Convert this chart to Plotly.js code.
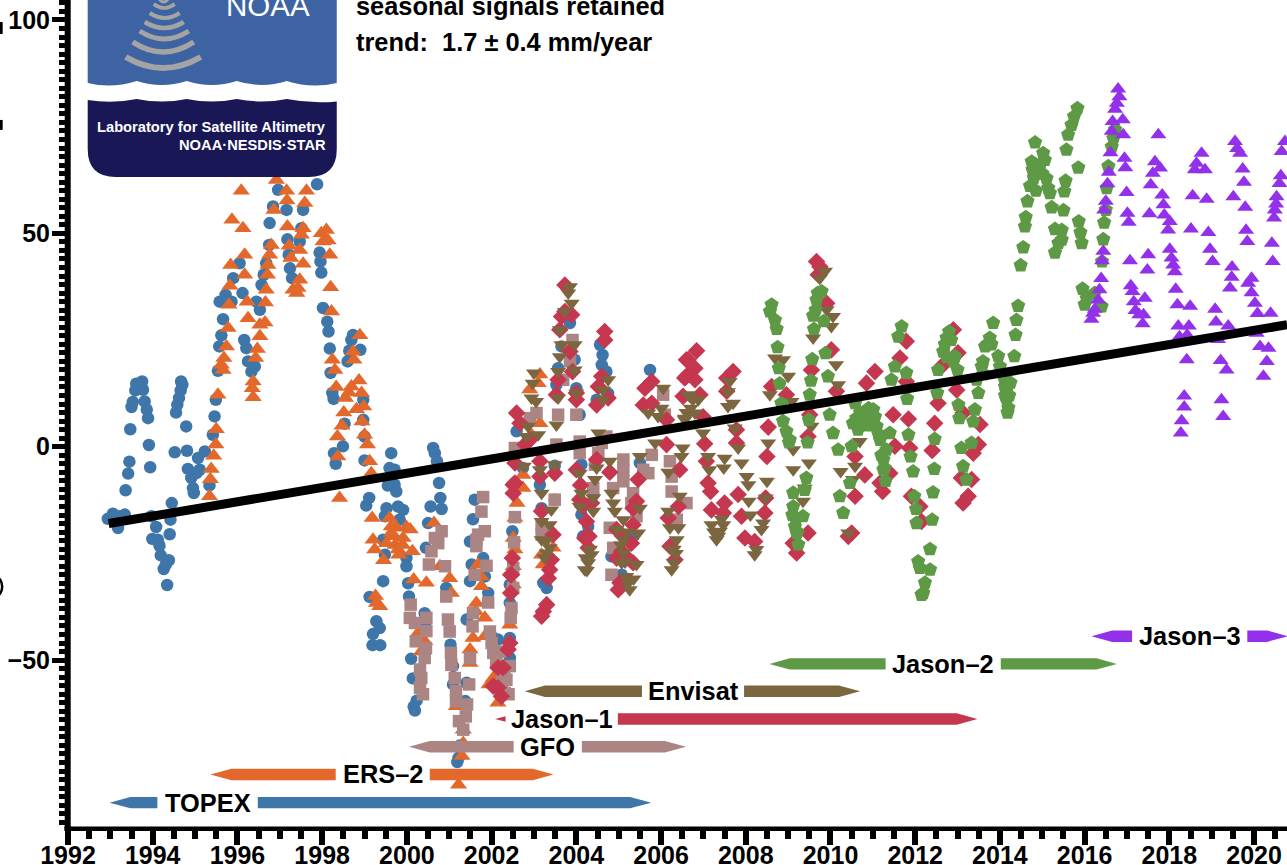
<!DOCTYPE html>
<html>
<head>
<meta charset="utf-8">
<script src="https://cdn.plot.ly/plotly-3.0.1.min.js"></script>
<style>html,body{margin:0;padding:0;background:#fff;overflow:hidden}#chart{width:1287px;height:865px}</style>
</head>
<body>
<div id="chart"></div>
<script>
// [year, sea level in mm]
const topexPoints = [[1992.94,-16.9],[1993.06,-15.7],[1993.18,-19.05],[1993.22,-16.3],[1993.34,-15.9],[1993.36,-10.2],[1993.42,-6.3],[1993.45,-3.5],[1993.47,4.1],[1993.5,9.3],[1993.53,10.5],[1993.59,13.2],[1993.61,14.75],[1993.75,15.3],[1993.77,13.35],[1993.81,10.6],[1993.86,8.7],[1993.89,6.7],[1993.91,0.4],[1993.94,-4.8],[1993.97,-16.3],[1993.99,-21.6],[1994.08,-18.8],[1994.12,-21.8],[1994.16,-23.2],[1994.19,-25.45],[1994.26,-28.65],[1994.31,-27.6],[1994.34,-32.4],[1994.38,-26.6],[1994.4,-20.5],[1994.42,-17.1],[1994.45,-13.2],[1994.52,-1.3],[1994.55,8],[1994.58,9.8],[1994.62,11.4],[1994.66,13.2],[1994.67,15.3],[1994.7,14.5],[1994.79,4.76],[1994.81,-0.94],[1994.83,-5.2],[1994.91,-7.3],[1994.95,-9.7],[1994.97,-10.85],[1995.03,-6.2],[1995.07,-2.65],[1995.11,-5.4],[1995.23,-1.1],[1995.34,-9.06],[1995.42,2.8],[1995.46,7.1],[1995.49,11],[1995.54,17.8],[1995.57,23.5],[1995.58,34],[1995.62,26.1],[1995.66,29.9],[1995.72,35.6],[1995.86,34],[1995.9,39.5],[1996.05,43],[1996.12,36],[1996.16,25],[1996.21,23.1],[1996.25,20],[1996.33,17.6],[1996.41,18.8],[1996.45,34],[1996.53,32.1],[1996.57,37.9],[1996.62,40.3],[1996.68,43],[1996.75,47.3],[1996.76,52.4],[1996.84,56.3],[1996.96,60.2],[1997.16,55.5],[1997.18,48.6],[1997.21,45],[1997.24,41.8],[1997.29,39.5],[1997.47,48.1],[1997.51,51.2],[1997.55,55.5],[1997.88,61.5],[1997.94,45.5],[1997.96,43.4],[1997.98,40.8],[1998.02,32.5],[1998.12,29.3],[1998.15,27],[1998.18,23],[1998.2,17.3],[1998.24,12.6],[1998.27,11.2],[1998.28,-1.5],[1998.32,-4],[1998.49,0.1],[1998.53,5.4],[1998.6,20],[1998.64,22.5],[1998.69,25],[1998.73,26.2],[1998.9,22.7],[1998.97,11],[1998.97,6.3],[1999,2.4],[1999,-3.2],[1999.04,-13.8],[1999.11,-12],[1999.12,-35.2],[1999.19,-46.5],[1999.2,-43.9],[1999.28,-40.9],[1999.36,-42.5],[1999.37,-46.5],[1999.44,-21.8],[1999.44,-31.5],[1999.48,-16.3],[1999.48,-25.3],[1999.52,-14.4],[1999.55,-9.1],[1999.59,-5],[1999.63,-1.5],[1999.71,-5.4],[1999.71,-8.9],[1999.75,-10.5],[1999.79,-14],[1999.83,-17.1],[1999.91,-14.8],[1999.99,-26.1],[1999.99,-28],[2000.03,-32],[2000.05,-35.1],[2000.1,-49.7],[2000.14,-54.3],[2000.16,-60.9],[2000.19,-61.8],[2000.23,-59.5],[2000.42,-39],[2000.45,-23.7],[2000.45,-41],[2000.5,-17.9],[2000.56,-14],[2000.62,-0.3],[2000.66,-1.5],[2000.71,-3.4],[2000.76,-8.5],[2000.79,-12],[2000.82,-14.6],[2000.93,-33.1],[2001.03,-46.4],[2001.09,-51.4],[2001.09,-55.7],[2001.19,-73.9],[2001.22,-72.9],[2001.25,-70],[2001.38,-59.6],[2001.41,-55.3],[2001.41,-40.5],[2001.49,-22.2],[2001.49,-31.5],[2001.53,-27.6],[2001.56,-17],[2001.6,-12.4],[2001.8,-26.1],[2001.84,-30.4],[2001.92,-34.3],[2002,-44.4],[2002.15,-45.2],[2002.43,-44.8],[2002.43,-49.5],[2002.43,-32.3],[2002.43,-36.6],[2002.49,-19.8],[2002.59,3.6],[2002.74,-5],[2003.14,-8.9],[2003.18,-14.4],[2003.22,-31.9],[2003.3,-33.1],[2003.49,-12.4],[2003.49,-4.45],[2003.53,14.5],[2003.57,18.4],[2003.65,23.5],[2003.85,29],[2003.96,20.4],[2004,13.7],[2004.08,7.5],[2004.12,-4.2],[2004.12,-15.9],[2004.16,-21],[2004.28,-18.7],[2004.4,-11.2],[2004.48,11],[2004.56,23.9],[2004.6,19.2],[2004.62,21.5],[2004.71,17.6],[2004.75,12.5],[2004.83,-25.7],[2005.07,-30],[2005.34,-21],[2005.5,-3.8],[2005.74,18]];

const ers2Points = [[1995.34,-11.6],[1995.36,-7.6],[1995.38,-5.2],[1995.44,-2.1],[1995.49,0.5],[1995.5,4.1],[1995.54,12.2],[1995.62,19.2],[1995.66,18],[1995.68,20.8],[1995.74,23.5],[1995.78,27.8],[1995.8,33.3],[1995.82,37.7],[1995.84,42.6],[1995.87,53.2],[1996.09,60],[1996.13,51.2],[1996.17,40.3],[1996.17,45],[1996.23,34],[1996.25,30.1],[1996.35,13.7],[1996.37,11.6],[1996.37,15.3],[1996.43,20.8],[1996.47,22.9],[1996.53,25.9],[1996.53,28.6],[1996.65,29.1],[1996.66,33.8],[1996.68,36.8],[1996.71,40.3],[1996.72,42.6],[1996.76,45],[1996.8,47.3],[1996.86,55.5],[1996.92,62.5],[1997.16,60],[1997.17,57.7],[1997.18,51.6],[1997.22,47.1],[1997.26,44.2],[1997.31,36.8],[1997.4,36],[1997.43,37.2],[1997.47,39.1],[1997.47,46.1],[1997.51,49.7],[1997.55,42.9],[1997.55,51.2],[1997.59,57.1],[1997.63,60],[1997.98,50],[1998.02,48.1],[1998.1,50.8],[1998.14,48.3],[1998.18,45],[1998.2,37.4],[1998.22,31.7],[1998.24,20.4],[1998.3,18],[1998.33,14],[1998.36,2.4],[1998.37,-2.3],[1998.41,-12],[1998.47,4.9],[1998.51,8],[1998.55,11.4],[1998.63,12.7],[1998.69,14.1],[1998.73,22.3],[1998.75,20.4],[1998.81,8.8],[1998.87,15.5],[1998.89,26.1],[1998.93,12.6],[1998.94,5.9],[1998.98,9.4],[1999,2.8],[1999.07,0.5],[1999.12,-3.4],[1999.16,-6.2],[1999.18,-16.7],[1999.2,-21.8],[1999.24,-24.1],[1999.26,-35],[1999.28,-36.6],[1999.36,-37.4],[1999.45,-26.6],[1999.52,-22.6],[1999.59,-16.7],[1999.63,-18.7],[1999.63,-20.2],[1999.7,-21],[1999.72,-23],[1999.75,-19],[1999.79,-24.1],[1999.81,-25.3],[1999.9,-23],[1999.91,-21.4],[1999.99,-18.8],[2000.08,-19.4],[2000.13,-24.5],[2000.16,-31.1],[2000.27,-43.6],[2000.34,-48],[2000.42,-45.6],[2000.46,-31.9],[2000.64,-17.9],[2000.78,-28],[2001.01,-30.8],[2001.05,-34.3],[2001.17,-60.8],[2001.22,-79.2],[2001.3,-72.5],[2001.33,-69.4],[2001.33,-66.3],[2001.49,-47.5],[2001.49,-50.7],[2001.56,-44.8],[2001.63,-38.6],[2001.64,-36.6],[2001.68,-27.6],[2001.75,-30.4],[2001.76,-32.7],[2001.84,-40.1],[2001.84,-44.4],[2001.94,-55.7],[2002.04,-54.2],[2002.15,-60],[2002.43,-41.7],[2002.51,-32.3],[2002.51,-28],[2002.51,-21.4],[2002.55,-24.1],[2002.55,-16.7],[2002.6,-13.2],[2002.74,-6.6],[2002.74,-9.7],[2002.9,13.4],[2002.94,2.8],[2003.1,14.9],[2003.14,16.9],[2003.14,5.5],[2003.18,-25.3],[2003.22,-27.6],[2003.45,-23.7]];

const gfoPoints = [[2000.07,-40.1],[2000.09,-37],[2000.19,-41.3],[2000.21,-45.6],[2000.31,-52.2],[2000.31,-56.5],[2000.34,-54.2],[2000.38,-58],[2000.42,-49.5],[2000.45,-47.2],[2000.46,-40.1],[2000.46,-43.2],[2000.52,-27.6],[2000.58,-24.5],[2000.66,-21.4],[2000.74,-22.6],[2000.82,-19.8],[2000.9,-28],[2000.93,-35.1],[2000.97,-40.5],[2001.01,-43.3],[2001.04,-48.3],[2001.05,-51.1],[2001.13,-54.2],[2001.16,-57.3],[2001.16,-59.6],[2001.23,-64.3],[2001.33,-66.3],[2001.39,-63.2],[2001.42,-60.4],[2001.47,-55.7],[2001.49,-49.5],[2001.55,-42.1],[2001.56,-39],[2001.6,-30],[2001.64,-21.8],[2001.64,-23.3],[2001.68,-20.6],[2001.76,-15.2],[2001.8,-11.8],[2001.84,-19.8],[2001.88,-27.9],[2001.92,-36.5],[2001.96,-43.3],[2002,-46],[2002.04,-48.3],[2002.11,-50.3],[2002.2,-48],[2002.25,-55],[2002.3,-52],[2002.31,-57.7],[2002.35,-54.6],[2002.4,-58],[2002.43,-51.4],[2002.45,-40.1],[2002.47,-37.8],[2002.51,-33.1],[2002.51,-28.4],[2002.53,-22.4],[2002.55,-16.5],[2002.55,-0.3],[2002.9,6.7],[2003.06,7.9],[2003.18,-18.3],[2003.18,-20.6],[2003.49,-12.4],[2003.53,0.5],[2003.57,7.5],[2003.69,15.7],[2003.85,22.3],[2003.85,20],[2003.91,25],[2004,7.5],[2004.08,1.2],[2004.08,-1.5],[2004.4,-9.7],[2004.44,-4.2],[2004.52,-1.5],[2004.6,0.9],[2004.71,2.4],[2004.79,-19],[2004.83,-30],[2004.87,-9.7],[2004.87,-23.7],[2005.11,-3],[2005.11,-5.4],[2005.11,-8.1],[2005.3,-13.2],[2005.34,-10.9],[2005.42,-16.3],[2005.58,-5.4],[2005.7,-6.2],[2005.78,-1.9],[2006.05,12.2],[2006.09,7.5],[2006.21,-3.4],[2006.25,-7],[2006.25,-10.5],[2006.37,-17.1],[2006.6,-13.2]];

const jason1Points = [[2002.04,-56.1],[2002.15,-51.8],[2002.15,-56.5],[2002.23,-58.5],[2002.27,-51.8],[2002.39,-47.5],[2002.43,-46],[2002.45,-34.3],[2002.45,-30],[2002.47,-30],[2002.49,-26.1],[2002.51,-8.9],[2002.51,-10.9],[2002.55,-3.8],[2002.55,-8.5],[2002.59,7.9],[2002.67,5.5],[2002.79,0.5],[2002.9,1.6],[2003.14,-3.4],[2003.14,-7],[2003.18,-15.1],[2003.18,-39.7],[2003.22,-38.6],[2003.3,-37],[2003.34,-30.8],[2003.37,-28.8],[2003.41,-26.5],[2003.45,-20.6],[2003.49,-6.2],[2003.53,12.2],[2003.57,15.7],[2003.61,27.4],[2003.65,30.5],[2003.73,37.9],[2003.73,31.7],[2003.85,22.3],[2003.89,30.9],[2003.91,17.6],[2004,12.6],[2004,11],[2004,-5.4],[2004.08,-12.4],[2004.1,-9],[2004.15,-14],[2004.2,-21.4],[2004.24,-17.5],[2004.28,-23.7],[2004.3,-21],[2004.36,-13.2],[2004.48,9.8],[2004.48,-3],[2004.52,14.1],[2004.6,16.5],[2004.67,27],[2004.67,25],[2004.75,11.4],[2004.79,-6],[2004.95,-19.4],[2004.95,-26.1],[2004.99,-33.5],[2005.03,-31.9],[2005.07,-24.5],[2005.1,-21],[2005.2,-26],[2005.3,-22.6],[2005.34,-14.4],[2005.34,-18.3],[2005.34,-27.2],[2005.42,-12.8],[2005.46,-7.7],[2005.58,9.8],[2005.62,13.7],[2005.78,15.3],[2005.78,10.2],[2006.13,6.3],[2006.13,0.5],[2006.17,-16.7],[2006.21,-23.3],[2006.33,-26.5],[2006.41,-14],[2006.44,-5.4],[2006.52,11.8],[2006.56,16.1],[2006.6,20.4],[2006.6,16.5],[2006.64,20.4],[2006.8,18.4],[2006.8,15.7],[2006.84,22.5],[2006.92,12.2],[2006.99,7],[2007.03,0.7],[2007.07,-3.4],[2007.11,-8.5],[2007.17,-10.5],[2007.19,-14.8],[2007.47,-15.5],[2007.5,-13.2],[2007.55,16.1],[2007.55,13],[2007.7,17.6],[2007.78,4],[2007.78,0.9],[2007.82,-11.2],[2007.9,-16.3],[2007.98,-21.4],[2008.21,-22.2],[2008.45,-15.5],[2008.47,-12],[2008.5,-2.3],[2008.53,4.6],[2008.61,14.1],[2008.96,12.2],[2009.12,-22.6],[2009.2,-24.9],[2009.47,2.4],[2009.47,-20.2],[2009.51,7.5],[2009.55,18],[2009.67,43.4],[2009.71,40.3],[2009.75,42.2],[2009.91,33.6],[2010.02,22.7],[2010.14,13],[2010.42,-21],[2010.5,-20.2],[2010.58,-2.3],[2010.58,-11.6],[2010.81,-6.6],[2010.85,14.9],[2011.05,17.6],[2011.17,-8.5],[2011.23,-10.5],[2011.4,-6.2],[2011.48,7.5],[2011.52,0.1],[2011.64,20.8],[2011.79,24.7],[2011.79,15.3],[2011.84,6.5],[2011.87,-0.3],[2011.91,-11.6],[2012.11,-14],[2012.15,-17.5],[2012.4,-0.9],[2012.46,5.5],[2012.54,10.2],[2012.66,19.2],[2012.9,27.4],[2012.98,13.3],[2013.01,22],[2013.09,-7.3],[2013.13,7.9],[2013.13,-13.2],[2013.25,-11.6],[2013.33,-7.7],[2013.37,-1.5],[2013.49,0.5],[2013.53,5.2]];

const envisatPoints = [[2002.76,-4.6],[2002.82,2.4],[2002.86,4.8],[2002.94,11.4],[2002.97,14.9],[2003,17.3],[2003.05,10.6],[2003.1,2.8],[2003.14,-5.4],[2003.18,-10.9],[2003.18,-17.5],[2003.18,-21.8],[2003.25,-26],[2003.3,-24.9],[2003.3,-22],[2003.37,-18.3],[2003.37,-23.7],[2003.41,-14.8],[2003.49,-4.2],[2003.53,5.1],[2003.57,17.6],[2003.57,11.4],[2003.61,27.4],[2003.61,21.1],[2003.65,23.9],[2003.73,31.7],[2003.81,36],[2003.85,37.5],[2003.89,33.6],[2003.96,23.9],[2003.96,18],[2004,12.6],[2004.08,-6.2],[2004.08,-14],[2004.12,-10.9],[2004.2,-28.8],[2004.22,-26],[2004.25,-29],[2004.28,-27.2],[2004.32,-24],[2004.36,-25.3],[2004.4,-12],[2004.4,-15.1],[2004.44,-7.7],[2004.48,-5],[2004.52,3.2],[2004.62,11],[2004.63,13.3],[2004.75,15.7],[2004.79,-3.4],[2004.83,-10.9],[2004.87,-13.2],[2004.91,-15.1],[2004.95,-19.4],[2005.05,-23],[2005.07,-27.2],[2005.11,-17.1],[2005.11,-21.8],[2005.11,-24.9],[2005.15,-27],[2005.18,-30.4],[2005.2,-20],[2005.22,-32],[2005.26,-33.5],[2005.35,-31],[2005.42,-27.6],[2005.46,-20.2],[2005.5,-14.4],[2005.5,-2.3],[2005.7,7.9],[2005.86,0.9],[2005.93,7.1],[2006.01,9],[2006.05,13.7],[2006.17,-6],[2006.17,-15.1],[2006.21,-19],[2006.25,-28.8],[2006.25,-24],[2006.3,-27.2],[2006.3,-24],[2006.35,-25],[2006.37,-21.8],[2006.41,-19],[2006.44,-11.6],[2006.48,-2.3],[2006.51,-0.3],[2006.56,6.3],[2006.56,6.7],[2006.6,8],[2006.64,12.2],[2006.68,11.8],[2006.7,9],[2006.75,11],[2006.8,7.9],[2006.88,11],[2006.99,3.2],[2007.11,-2.3],[2007.14,-5.4],[2007.19,-18.3],[2007.25,-20],[2007.31,-21.8],[2007.35,-21],[2007.39,-19.8],[2007.43,-17],[2007.47,-18.3],[2007.48,-5],[2007.5,-2.7],[2007.58,9.4],[2007.58,12.9],[2007.62,15.3],[2007.7,10.2],[2007.74,4.4],[2007.82,-0.3],[2007.9,-3.8],[2008.02,-7],[2008.06,-8.9],[2008.07,-12.8],[2008.11,-16],[2008.21,-25.3],[2008.25,-24.1],[2008.37,-19.4],[2008.41,-17.9],[2008.47,-12],[2008.5,-8.1],[2008.53,0.9],[2008.57,12.2],[2008.69,20.8],[2008.88,20.4],[2009,16.5],[2009.08,10.6],[2009.12,-0.7],[2009.12,-5.4],[2009.16,-17.1],[2009.35,-12.8],[2009.39,-9.7],[2009.49,-3.8],[2009.55,4.8],[2009.59,25.5],[2009.75,39.5],[2009.87,41.1],[2009.91,32.1],[2010.02,28.2],[2010.06,30.5],[2010.13,19.2],[2010.18,14.5],[2010.24,-5.8],[2010.42,-20.2],[2010.53,-7.7],[2010.58,-4.6],[2010.69,1.2]];

const jason2Points = [[2008.57,31.7],[2008.61,33.3],[2008.69,29.7],[2008.73,27.6],[2008.75,23.3],[2008.78,18.4],[2008.8,14.8],[2008.84,10.2],[2008.88,6],[2008.96,3.6],[2009.02,1],[2009.04,1.6],[2009.1,-16],[2009.12,-10.8],[2009.12,-14],[2009.16,-18.7],[2009.18,-17],[2009.2,-20.2],[2009.22,-20],[2009.24,-22.9],[2009.35,-16.3],[2009.39,-10.1],[2009.43,-7.3],[2009.46,1],[2009.49,6.3],[2009.51,12.2],[2009.54,15.5],[2009.57,20.5],[2009.59,30.7],[2009.61,27.6],[2009.65,32],[2009.67,34.4],[2009.7,36],[2009.79,36.4],[2009.84,29.4],[2009.88,21.9],[2009.94,16.5],[2009.98,7.5],[2010.06,3.2],[2010.18,-0.7],[2010.22,-11.6],[2010.3,-15.5],[2010.46,-8.5],[2010.5,0.1],[2010.53,5.5],[2010.58,10.2],[2010.61,6.7],[2010.65,4],[2010.7,8],[2010.75,6.5],[2010.8,5],[2010.85,7.5],[2010.9,9],[2010.95,6],[2011,5],[2011.01,8.7],[2011.05,7],[2011.09,4.8],[2011.13,3],[2011.17,1.6],[2011.2,-2],[2011.25,-3],[2011.25,-5.4],[2011.28,-5],[2011.3,-8],[2011.32,-0.7],[2011.4,3.2],[2011.44,15.7],[2011.52,18.8],[2011.6,25.8],[2011.68,28.2],[2011.79,17.3],[2011.81,11.2],[2011.84,2.8],[2011.89,-2.3],[2011.95,-5.8],[2011.98,-11.6],[2012.02,-14.6],[2012.03,-17.9],[2012.07,-26.9],[2012.11,-28.4],[2012.15,-34.7],[2012.19,-34.3],[2012.23,-31.9],[2012.35,-24],[2012.35,-28.8],[2012.4,-17.1],[2012.42,-10.7],[2012.45,-5.2],[2012.46,1.8],[2012.52,12.6],[2012.54,18],[2012.66,22.3],[2012.7,24],[2012.74,25.5],[2012.75,21],[2012.8,27],[2012.85,25],[2012.9,20],[2012.94,21.2],[2013,18],[2013.02,9.8],[2013.04,6.7],[2013.09,-0.3],[2013.13,-4.6],[2013.21,-7.7],[2013.33,0.9],[2013.37,5.9],[2013.41,8.7],[2013.45,15.7],[2013.49,12.6],[2013.57,18.8],[2013.6,20],[2013.62,17],[2013.65,23.5],[2013.7,24],[2013.76,25.5],[2013.8,24],[2013.84,29],[2013.96,21.2],[2014,18.8],[2014.1,16],[2014.12,14.1],[2014.12,12],[2014.15,13],[2014.16,11],[2014.17,11.8],[2014.18,8],[2014.2,9.1],[2014.2,14.9],[2014.22,12],[2014.25,15],[2014.34,21.2],[2014.37,26.2],[2014.39,29.7],[2014.43,33],[2014.49,42.5],[2014.55,46.7],[2014.59,51.6],[2014.61,53.8],[2014.65,57.5],[2014.71,61.1],[2014.75,66.8],[2014.77,64.9],[2014.8,63],[2014.83,71.3],[2014.85,60],[2014.91,64.1],[2014.95,66],[2015,64],[2015.02,68.8],[2015.06,67.2],[2015.1,62.9],[2015.14,60.6],[2015.18,59.4],[2015.22,56.1],[2015.3,45.5],[2015.3,51],[2015.38,47.7],[2015.46,48.5],[2015.46,50.8],[2015.5,55.4],[2015.52,59.8],[2015.55,62.3],[2015.57,69.6],[2015.61,73.1],[2015.69,75.4],[2015.75,77.4],[2015.83,79.3],[2015.85,65.4],[2015.86,52.8],[2015.9,50.2],[2015.93,47.7],[2015.95,37],[2016,33.3],[2016.05,34.8],[2016.24,36],[2016.4,32.9],[2016.41,43.4],[2016.44,48.6],[2016.46,52.5],[2016.5,55.5],[2016.52,60.6],[2016.56,65.7],[2016.64,70.3],[2016.68,72.3],[2016.72,74.3]];

const jason3Points = [[2016.16,29.9],[2016.2,31.3],[2016.24,32.2],[2016.32,34.4],[2016.35,36.8],[2016.39,39.4],[2016.41,43.6],[2016.44,45.8],[2016.46,55.5],[2016.5,57.5],[2016.54,61.6],[2016.57,64.3],[2016.61,68.9],[2016.64,73.9],[2016.66,76.2],[2016.72,79.1],[2016.76,80.5],[2016.79,83.8],[2016.82,82],[2016.9,76.6],[2016.91,73.1],[2016.94,67.6],[2016.96,65.4],[2016.99,59.6],[2017.01,54.7],[2017.04,52.6],[2017.07,43.6],[2017.09,37.7],[2017.13,36.4],[2017.16,34],[2017.2,31.9],[2017.29,30.9],[2017.37,28.8],[2017.39,30.9],[2017.42,34.8],[2017.48,41.4],[2017.5,45],[2017.53,54.6],[2017.56,61.4],[2017.61,64.1],[2017.66,66.8],[2017.74,73.1],[2017.78,65.3],[2017.83,59],[2017.86,56.7],[2017.88,54.3],[2017.97,50.8],[2018.01,52.8],[2018.01,46.3],[2018.05,44.2],[2018.09,42.6],[2018.13,41],[2018.15,36.9],[2018.19,33.3],[2018.21,28.3],[2018.24,25.8],[2018.27,3.2],[2018.29,6.1],[2018.35,11.9],[2018.35,9.3],[2018.41,20.4],[2018.42,26.2],[2018.46,28.3],[2018.49,32.9],[2018.51,51],[2018.55,58.8],[2018.6,64.9],[2018.64,66.4],[2018.76,68.8],[2018.84,64.9],[2018.88,58],[2018.92,50.2],[2018.96,46.3],[2019.02,43.4],[2019.08,32.2],[2019.1,29.2],[2019.15,25.1],[2019.21,20.2],[2019.23,11],[2019.27,7.1],[2019.35,18],[2019.39,28.3],[2019.43,37.2],[2019.47,39.7],[2019.48,42.1],[2019.51,58.6],[2019.55,71.5],[2019.6,69.9],[2019.67,68.8],[2019.73,65.1],[2019.76,62],[2019.79,56.1],[2019.81,50.7],[2019.84,48.1],[2019.86,38.3],[2019.94,39.5],[2019.94,36.1],[2020.02,33.6],[2020.06,26.6],[2020.08,31.2],[2020.14,23.5],[2020.22,16.5],[2020.3,20],[2020.34,23.1],[2020.39,31.3],[2020.42,47.7],[2020.44,43.4],[2020.47,53.6],[2020.49,55.5],[2020.52,56.9],[2020.53,58.6],[2020.6,61.7],[2020.63,63.5],[2020.65,69.2],[2020.73,71.5]];

const trendYears = [1992.96, 2020.78];
const trendLevels = [-18, 28.6];

// mission bars: level, then arrow tip, arrow base, label gap start, label gap end, arrow base, arrow tip (years)
const missionNames  = ['TOPEX','ERS–2','GFO','Jason–1','Envisat','Jason–2','Jason–3'];
const missionLevels = [-83.4,-76.8,-70.3,-63.8,-57.3,-50.9,-44.4];
const missionTipL   = [1992.98,1995.36,2000.05,2002.08,2002.78,2008.56,2016.16];
const missionBaseL  = [1993.47,1995.86,2000.54,2002.58,2003.26,2009.04,2016.65];
const missionGapL   = [1994.11,1998.32,2002.52,2002.33,2005.55,2011.30,2017.12];
const missionGapR   = [1996.48,2000.54,2004.13,2004.98,2007.96,2014.02,2019.84];
const missionBaseR  = [2005.27,2002.97,2006.09,2012.98,2010.20,2016.28,2020.31];
const missionTipR   = [2005.77,2003.46,2006.59,2013.47,2010.70,2016.76,2020.80];
const missionColors = ['#3F76A9','#E2682B','#AB8484','#C4374F','#7C6640','#5E9945','#9330EA'];

const xTickMajor = 2, xTickMinor = 0.5, yTickMajor = 50, yTickMinor = 2;

const W = 1287, H = 865, L = 68.3, B = 829.5;
const PW = W - L;
// decoration helpers (logo only): page pixels to paper fractions
const px = x => ((x - L) / PW).toFixed(5);
const py = y => (1 - y / B).toFixed(5);

const series = [
  {name:'TOPEX',  pts:topexPoints,  c:missionColors[0], sym:'circle',        size:12.5},
  {name:'ERS-2',  pts:ers2Points,   c:missionColors[1], sym:'triangle-up',   size:15},
  {name:'GFO',    pts:gfoPoints,    c:missionColors[2], sym:'square',        size:12.5},
  {name:'Jason-1',pts:jason1Points, c:missionColors[3], sym:'diamond',       size:13.5},
  {name:'Envisat',pts:envisatPoints,c:missionColors[4], sym:'triangle-down', size:14},
  {name:'Jason-2',pts:jason2Points, c:missionColors[5], sym:'pentagon',      size:15},
  {name:'Jason-3',pts:jason3Points, c:missionColors[6], sym:'triangle-up',   size:14}
];

const traces = series.map(s => ({
  type:'scatter', mode:'markers', name:s.name, showlegend:false, hoverinfo:'x+y',
  x:s.pts.map(p=>p[0]), y:s.pts.map(p=>p[1]),
  marker:{color:s.c, symbol:s.sym, size:s.size, line:{width:0}}
}));

traces.push({type:'scatter', mode:'lines', x:trendYears, y:trendLevels, showlegend:false,
  hoverinfo:'skip', line:{color:'#000', width:9}});

const HALF = 1.33;
missionNames.forEach((n,i)=>{
  const lv = missionLevels[i];
  let lx, ly;
  if (missionGapL[i] < missionBaseL[i]) {       // label cuts into the arrow head
    const f = (missionGapL[i]-missionTipL[i])/(missionBaseL[i]-missionTipL[i]);
    lx = [missionTipL[i], missionGapL[i], missionGapL[i], missionTipL[i]];
    ly = [lv, lv+HALF*f, lv-HALF*f, lv];
  } else {
    lx = [missionTipL[i], missionBaseL[i], missionGapL[i], missionGapL[i], missionBaseL[i], missionTipL[i]];
    ly = [lv, lv+HALF, lv+HALF, lv-HALF, lv-HALF, lv];
  }
  const rx = [missionGapR[i], missionBaseR[i], missionTipR[i], missionBaseR[i], missionGapR[i], missionGapR[i]];
  const ry = [lv+HALF, lv+HALF, lv, lv-HALF, lv-HALF, lv+HALF];
  traces.push({type:'scatter', mode:'lines', x:lx.concat([null],rx), y:ly.concat([null],ry),
    fill:'toself', fillcolor:missionColors[i], line:{width:0}, showlegend:false, hoverinfo:'skip'});
});

const bold = {family:'"Liberation Sans", Arial, sans-serif', size:25.4, color:'#000', weight:700};

const annotations = missionNames.map((n,i)=>({
  x:(missionGapL[i]+missionGapR[i])/2, y:missionLevels[i], xref:'x', yref:'y', text:n,
  showarrow:false, xanchor:'center', yanchor:'middle', font:bold
}));
// Jason-1's gap: centre the label in the actual space
annotations[3].x = 2003.65;

annotations.push(
  {x:px(354.5),y:py(6.5),xref:'paper',yref:'paper',text:'seasonal signals retained',showarrow:false,xanchor:'left',yanchor:'middle',font:bold},
  {x:px(354.5),y:py(42.5),xref:'paper',yref:'paper',text:'trend:  1.7 ± 0.4 mm/year',showarrow:false,xanchor:'left',yanchor:'middle',font:bold},
  {x:px(224),y:py(6),xref:'paper',yref:'paper',text:'NOAA',showarrow:false,xanchor:'left',yanchor:'middle',
    font:{family:'"Liberation Sans", Arial, sans-serif',size:29.5,color:'#fff'}},
  {x:px(328),y:py(127),xref:'paper',yref:'paper',text:'Laboratory for Satellite Altimetry',showarrow:false,xanchor:'right',yanchor:'middle',
    font:{family:'"Liberation Sans", Arial, sans-serif',size:14.7,color:'#fff',weight:700}},
  {x:px(328),y:py(145),xref:'paper',yref:'paper',text:'NOAA·NESDIS·STAR',showarrow:false,xanchor:'right',yanchor:'middle',
    font:{family:'"Liberation Sans", Arial, sans-serif',size:14.7,color:'#fff',weight:700}}
);

// logo shapes
function wave(yPeak, yTrough){
  const peaks=[137,187,237,287];
  let d='';
  let prev=88;
  peaks.forEach(p=>{
    const mid=(prev+p)/2;
    d+=` Q ${px(mid)} ${py(yTrough+1)} ${px(p)} ${py(yPeak)}`;
    prev=p;
  });
  d+=` Q ${px(312)} ${py(yTrough+1)} ${px(337)} ${py(yPeak+2.5)}`;
  return d;
}
const logoBlue = `M ${px(88)} ${py(-2)} L ${px(337)} ${py(-2)} L ${px(337)} ${py(83)}`
  + ` Q ${px(312)} ${py(89)} ${px(287)} ${py(81)} Q ${px(262)} ${py(89)} ${px(237)} ${py(81)} Q ${px(212)} ${py(89)} ${px(187)} ${py(81)} Q ${px(162)} ${py(89)} ${px(137)} ${py(81)} Q ${px(112)} ${py(89)} ${px(88)} ${py(83)} Z`;
const logoNavy = `M ${px(88)} ${py(100)}` + wave(99,103)
  + ` L ${px(337)} ${py(149)} Q ${px(337)} ${py(177)} ${px(309)} ${py(177)} L ${px(116)} ${py(177)} Q ${px(88)} ${py(177)} ${px(88)} ${py(149)} Z`;
const logoWhite = `M ${px(88)} ${py(83)} L ${px(337)} ${py(83)} L ${px(337)} ${py(100)} L ${px(88)} ${py(100)} Z`;

function arc(x0,x1,y0,yb,w){
  const cx=(x0+x1)/2, yc=2*yb-y0;
  return {type:'path', xref:'paper', yref:'paper', layer:'above',
    path:`M ${px(x0)} ${py(y0)} Q ${px(cx)} ${py(yc)} ${px(x1)} ${py(y0)}`,
    line:{color:'#A4A4A4', width:w}, fillcolor:'rgba(0,0,0,0)'};
}

const shapes = [
  {type:'path',xref:'paper',yref:'paper',layer:'above',path:logoWhite,fillcolor:'#fff',line:{width:0}},
  {type:'path',xref:'paper',yref:'paper',layer:'above',path:logoBlue,fillcolor:'#3D63A2',line:{width:0}},
  {type:'path',xref:'paper',yref:'paper',layer:'above',path:logoNavy,fillcolor:'#1A1757',line:{width:0}},
  arc(126,201,57,68,6), arc(133,194,42,52,5.5), arc(140,189,31,39,5), arc(145,184,22,28,4.5),
  arc(150,180,13,18,4), arc(154,175,4,8,3.5), arc(158,170,-3,2,3),
  // thick axis bands
  {type:'rect',xref:'paper',yref:'paper',xsizemode:'pixel',xanchor:0,x0:-3.3,x1:2.7,y0:0,y1:1.02,layer:'above',fillcolor:'#000',line:{width:0}},
  {type:'rect',xref:'paper',yref:'paper',ysizemode:'pixel',yanchor:0,y0:-2,y1:2.5,x0:-0.003,x1:1,layer:'above',fillcolor:'#000',line:{width:0}},
  // clipped remains of the side title at the page edge
  {type:'rect',xref:'paper',yref:'paper',x0:px(0),x1:px(3),y0:py(34),y1:py(22),layer:'above',fillcolor:'#000',line:{width:0}},
  {type:'rect',xref:'paper',yref:'paper',x0:px(0),x1:px(3),y0:py(130),y1:py(120),layer:'above',fillcolor:'#000',line:{width:0}},
  {type:'path',xref:'paper',yref:'paper',layer:'above',path:`M ${px(0)} ${py(579)} Q ${px(5)} ${py(587)} ${px(0)} ${py(595)}`,line:{color:'#000',width:2.5},fillcolor:'rgba(0,0,0,0)'}
];

const tickFont = {family:'"Liberation Sans", Arial, sans-serif', size:25, color:'#000', weight:700};

const layout = {
  width:W, height:H, paper_bgcolor:'#fff', plot_bgcolor:'#fff', showlegend:false,
  margin:{l:L, r:0, t:0, b:H-B, pad:0},
  xaxis:{range:[1992, 1992+(W-L)/42.35], tick0:1992, dtick:xTickMajor, tickformat:'d', showgrid:false, zeroline:false, showline:false,
    ticks:'outside', ticklen:15, tickwidth:6, tickcolor:'#000', tickfont:tickFont, ticklabelstandoff:-11,
    minor:{dtick:xTickMinor, tick0:1992, ticks:'outside', ticklen:9, tickwidth:6, tickcolor:'#000', showgrid:false}},
  yaxis:{range:[(447-B)/4.27, 447/4.27], tick0:0, dtick:yTickMajor, showgrid:false, zeroline:false, showline:false,
    ticks:'outside', ticklen:15, tickwidth:5, tickcolor:'#000', tickfont:tickFont, ticklabelstandoff:-3,
    minor:{dtick:yTickMinor, tick0:0, ticks:'outside', ticklen:8, tickwidth:5, tickcolor:'#000', showgrid:false}},
  shapes, annotations
};

Plotly.newPlot('chart', traces, layout, {displayModeBar:false, staticPlot:true});
</script>
</body>
</html>
